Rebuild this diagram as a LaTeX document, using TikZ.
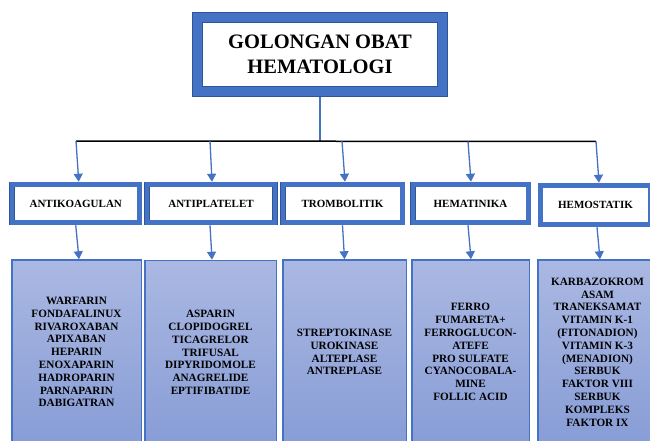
\documentclass[tikz,border=0pt]{standalone}
\usepackage{fontspec}
\setmainfont{Liberation Serif}
\usetikzlibrary{arrows.meta}
\definecolor{boxblue}{HTML}{4472C4}
\definecolor{edgeblue}{HTML}{2F5597}
\definecolor{lineblue}{HTML}{4472C4}
\definecolor{gradtop}{HTML}{AAB8E2}
\definecolor{gradbot}{HTML}{889DD6}
\begin{document}
\begin{tikzpicture}[x=1pt,y=-1pt,
  titlebox/.style={draw=edgeblue, double=boxblue, double distance=9pt, line width=0.8pt, fill=white,
    minimum width=245pt, minimum height=74pt, inner sep=0pt, outer sep=5.3pt, align=center,
    font=\bfseries\fontsize{20.5}{25}\selectfont},
  catbox/.style={draw=edgeblue, double=boxblue, double distance=4.5pt, line width=0.5pt, fill=white,
    minimum height=38pt, inner sep=0pt, outer sep=2.75pt,
    font=\bfseries\fontsize{11}{13}\selectfont},
  listbox/.style={draw=boxblue, line width=1.5pt, top color=gradtop, bottom color=gradbot,
    minimum height=184pt, inner sep=0pt, outer sep=0.75pt, align=center,
    font=\bfseries\fontsize{11.2}{12.8}\selectfont},
  link/.style={draw=lineblue, line width=1.3pt, -{Triangle[width=9pt,length=8pt]}},
  trunk/.style={draw=lineblue, line width=1.3pt},
  bus/.style={draw=black, line width=1.5pt}]
\useasboundingbox (0,0) rectangle (650,441);
\clip (0,0) rectangle (650,441);

% title
\node[titlebox] (top) at (320,54.5) {GOLONGAN OBAT\\HEMATOLOGI};

% categories
\node[catbox, minimum width=127.5pt] (a1) at (75.75,203.5) {ANTIKOAGULAN};
\node[catbox, minimum width=128pt] (a2) at (211,203.5) {ANTIPLATELET};
\node[catbox, minimum width=119.5pt] (a3) at (342.5,203.5) {TROMBOLITIK};
\node[catbox, minimum width=115.5pt] (a4) at (470.5,203.5) {HEMATINIKA};
\node[catbox, minimum width=110pt, minimum height=39pt] (a5) at (595.5,205) {HEMOSTATIK};

% lists
\node[listbox, minimum width=129.5pt] (b1) at (76.5,352) {WARFARIN\\FONDAFALINUX\\RIVAROXABAN\\APIXABAN\\HEPARIN\\ENOXAPARIN\\HADROPARIN\\PARNAPARIN\\DABIGATRAN};
\node[listbox, minimum width=131.5pt] (b2) at (210.5,352.5) {ASPARIN\\CLOPIDOGREL\\TICAGRELOR\\TRIFUSAL\\DIPYRIDOMOLE\\ANAGRELIDE\\EPTIFIBATIDE};
\node[listbox, minimum width=123.5pt] (b3) at (344.5,352) {STREPTOKINASE\\UROKINASE\\ALTEPLASE\\ANTREPLASE};
\node[listbox, minimum width=117.5pt] (b4) at (470.5,352) {FERRO\\FUMARETA+\\FERROGLUCON-\\ATEFE\\PRO SULFATE\\CYANOCOBALA-\\MINE\\FOLLIC ACID};
\node[listbox, minimum width=119.5pt] (b5) at (597.5,352) {KARBAZOKROM\\ASAM\\TRANEKSAMAT\\VITAMIN K-1\\(FITONADION)\\VITAMIN K-3\\(MENADION)\\SERBUK\\FAKTOR VIII\\SERBUK\\KOMPLEKS\\FAKTOR IX};

% bus
\coordinate (c1) at (76,141);
\coordinate (c2) at (210,141);
\coordinate (c3) at (342,141);
\coordinate (c4) at (468,141.5);
\coordinate (c5) at (596,141.5);
\coordinate (j) at (320,141);

\draw[trunk] (top.south) -- (j);
\draw[bus] (c1) -- (c5);

\draw[link] (c1) -- ([xshift=3pt]a1.north);
\draw[link] (c2) -- ([xshift=1pt]a2.north);
\draw[link] (c3) -- ([xshift=2.5pt]a3.north);
\draw[link] (c4) -- ([xshift=0.5pt]a4.north);
\draw[link] (c5) -- ([xshift=3.5pt]a5.north);

\draw[link] (a1.south) -- ([xshift=2.5pt]b1.north);
\draw[link] ([xshift=-1pt]a2.south) -- ([xshift=1.5pt]b2.north);
\draw[link] (a3.south) -- (b3.north);
\draw[link] ([xshift=-2.5pt]a4.south) -- ([xshift=0.5pt]b4.north);
\draw[link] ([xshift=1.5pt]a5.south) -- ([xshift=2.5pt]b5.north);
\end{tikzpicture}
\end{document}
